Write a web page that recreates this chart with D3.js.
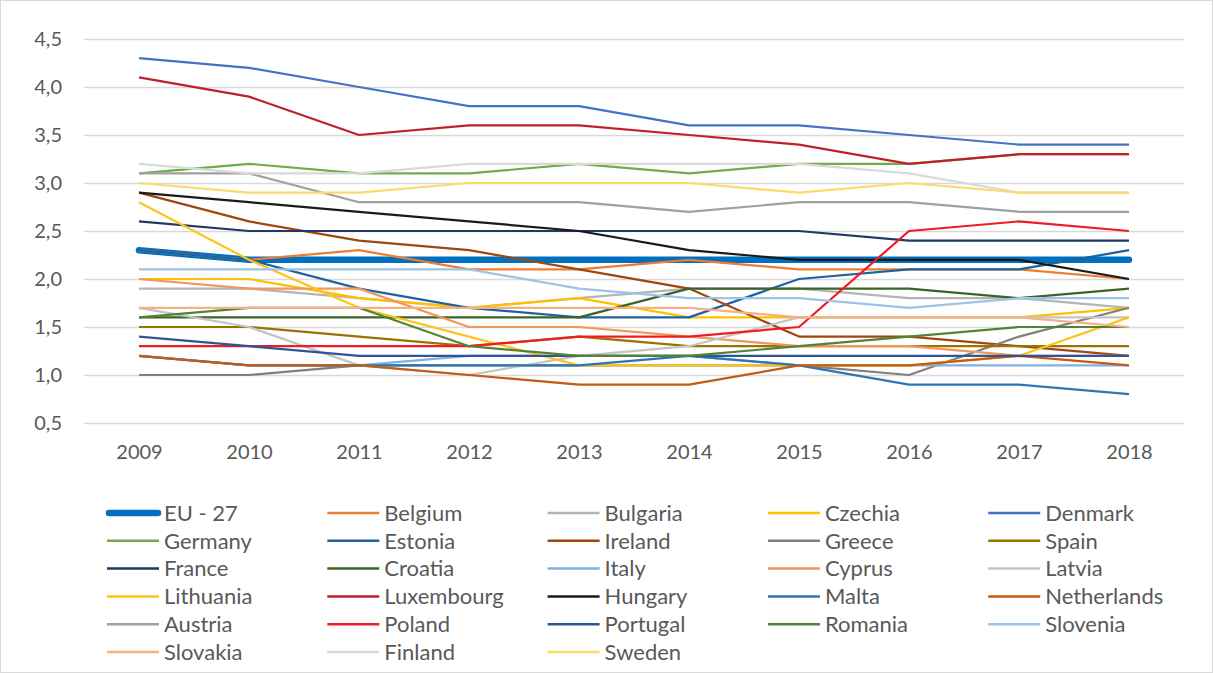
<!DOCTYPE html>
<meta charset="utf-8">
<head>
    <title>Lines</title>
    <script src="https://cdn.jsdelivr.net/npm/d3@7"></script>
</head>

<style>
    body { margin: 0; background: #fff; }
    text { font-family: Lato, "Open Sans", sans-serif; fill: #595959; }
    .grid line { stroke: #d9d9d9; stroke-width: 1.3; }
    .grid path { display: none; }
    .series { fill: none; stroke-linejoin: round; }
</style>

<svg></svg>

<script>
    // data
    var years = ["2009", "2010", "2011", "2012", "2013", "2014", "2015", "2016", "2017", "2018"];
    var yTicks = [0.5, 1.0, 1.5, 2.0, 2.5, 3.0, 3.5, 4.0, 4.5];

    var eu27        = [2.3, 2.2, 2.2, 2.2, 2.2, 2.2, 2.2, 2.2, 2.2, 2.2];
    var belgium     = [2.3, 2.2, 2.3, 2.1, 2.1, 2.2, 2.1, 2.1, 2.1, 2.0];
    var bulgaria    = [1.9, 1.9, 1.8, 1.7, 1.8, 1.9, 1.9, 1.8, 1.8, 1.7];
    var czechia     = [2.0, 2.0, 1.8, 1.7, 1.8, 1.6, 1.6, 1.6, 1.6, 1.7];
    var denmark     = [4.3, 4.2, 4.0, 3.8, 3.8, 3.6, 3.6, 3.5, 3.4, 3.4];
    var germany     = [3.1, 3.2, 3.1, 3.1, 3.2, 3.1, 3.2, 3.2, 3.3, 3.3];
    var estonia     = [2.3, 2.2, 1.9, 1.7, 1.6, 1.6, 2.0, 2.1, 2.1, 2.3];
    var ireland     = [2.9, 2.6, 2.4, 2.3, 2.1, 1.9, 1.4, 1.4, 1.3, 1.2];
    var greece      = [1.0, 1.0, 1.1, 1.1, 1.1, 1.1, 1.1, 1.0, 1.4, 1.7];
    var spain       = [1.5, 1.5, 1.4, 1.3, 1.4, 1.3, 1.3, 1.3, 1.3, 1.3];
    var france      = [2.6, 2.5, 2.5, 2.5, 2.5, 2.5, 2.5, 2.4, 2.4, 2.4];
    var croatia     = [1.6, 1.6, 1.6, 1.6, 1.6, 1.9, 1.9, 1.9, 1.8, 1.9];
    var italy       = [1.2, 1.1, 1.1, 1.2, 1.2, 1.2, 1.1, 1.1, 1.1, 1.1];
    var cyprus      = [2.0, 1.9, 1.9, 1.5, 1.5, 1.4, 1.3, 1.3, 1.2, 1.2];
    var latvia      = [1.7, 1.5, 1.1, 1.0, 1.2, 1.3, 1.6, 1.6, 1.6, 1.6];
    var lithuania   = [2.8, 2.2, 1.7, 1.4, 1.1, 1.1, 1.1, 1.1, 1.2, 1.6];
    var luxembourg  = [4.1, 3.9, 3.5, 3.6, 3.6, 3.5, 3.4, 3.2, 3.3, 3.3];
    var hungary     = [2.9, 2.8, 2.7, 2.6, 2.5, 2.3, 2.2, 2.2, 2.2, 2.0];
    var malta       = [1.2, 1.1, 1.1, 1.1, 1.1, 1.2, 1.1, 0.9, 0.9, 0.8];
    var netherlands = [1.2, 1.1, 1.1, 1.0, 0.9, 0.9, 1.1, 1.1, 1.2, 1.1];
    var austria     = [3.1, 3.1, 2.8, 2.8, 2.8, 2.7, 2.8, 2.8, 2.7, 2.7];
    var poland      = [1.3, 1.3, 1.3, 1.3, 1.4, 1.4, 1.5, 2.5, 2.6, 2.5];
    var portugal    = [1.4, 1.3, 1.2, 1.2, 1.2, 1.2, 1.2, 1.2, 1.2, 1.2];
    var romania     = [1.6, 1.7, 1.7, 1.3, 1.2, 1.2, 1.3, 1.4, 1.5, 1.5];
    var slovenia    = [2.1, 2.1, 2.1, 2.1, 1.9, 1.8, 1.8, 1.7, 1.8, 1.8];
    var slovakia    = [1.7, 1.7, 1.7, 1.7, 1.7, 1.7, 1.6, 1.6, 1.6, 1.5];
    var finland     = [3.2, 3.1, 3.1, 3.2, 3.2, 3.2, 3.2, 3.1, 2.9, 2.9];
    var sweden      = [3.0, 2.9, 2.9, 3.0, 3.0, 3.0, 2.9, 3.0, 2.9, 2.9];

    var names = ["EU - 27", "Belgium", "Bulgaria", "Czechia", "Denmark",
        "Germany", "Estonia", "Ireland", "Greece", "Spain",
        "France", "Croatia", "Italy", "Cyprus", "Latvia",
        "Lithuania", "Luxembourg", "Hungary", "Malta", "Netherlands",
        "Austria", "Poland", "Portugal", "Romania", "Slovenia",
        "Slovakia", "Finland", "Sweden"];
    var values = [eu27, belgium, bulgaria, czechia, denmark,
        germany, estonia, ireland, greece, spain,
        france, croatia, italy, cyprus, latvia,
        lithuania, luxembourg, hungary, malta, netherlands,
        austria, poland, portugal, romania, slovenia,
        slovakia, finland, sweden];
    var colors = ["#0070c0", "#ed7d31", "#b4b4b4", "#ffc000", "#4472c4",
        "#70ad47", "#1f62a0", "#9e480e", "#7f7f7f", "#997300",
        "#203864", "#3b6326", "#7fb1e3", "#f0975a", "#c4c4c4",
        "#ffc31a", "#c0202a", "#1a1a1a", "#2e75b6", "#c55a11",
        "#a0a0a0", "#f01c24", "#2f5597", "#548235", "#9dc3e6",
        "#f4b183", "#d9d9d9", "#ffd966"];

    var vWidth = 1213, vHeight = 673;
    var plotLeft = 84, plotRight = 1184, plotTop = 39, plotBottom = 423;

    var svg = d3.select('svg')
        .attr('width', vWidth)
        .attr('height', vHeight);

    svg.append('rect')
        .attr('x', 0.5).attr('y', 0.5)
        .attr('width', vWidth - 1).attr('height', vHeight - 1)
        .attr('fill', '#fff').attr('stroke', '#d9d9d9');

    var x = d3.scalePoint().domain(years).range([plotLeft, plotRight]).padding(0.5);
    var y = d3.scaleLinear().domain([0.5, 4.5]).range([plotBottom, plotTop]);

    var fmt = d3.formatLocale({decimal: ",", thousands: ".", grouping: [3], currency: ["", "€"]}).format(".1f");

    // grid + y labels
    svg.append('g')
        .attr('class', 'grid')
        .attr('transform', 'translate(' + plotLeft + ',0)')
        .call(d3.axisLeft(y).tickValues(yTicks).tickSize(-(plotRight - plotLeft)).tickFormat(fmt).tickPadding(22))
        .selectAll('text')
        .style('font-size', '20px');

    // x labels
    svg.append('g')
        .attr('class', 'grid')
        .attr('transform', 'translate(0,' + plotBottom + ')')
        .call(d3.axisBottom(x).tickSize(0).tickPadding(22))
        .selectAll('text')
        .style('font-size', '20px');

    var line = d3.line()
        .x(function (d, i) { return x(years[i]); })
        .y(function (d) { return y(d); });

    svg.append('g')
        .selectAll('path').data(values).enter()
        .append('path')
        .attr('class', 'series')
        .attr('d', line)
        .attr('stroke', function (d, i) { return colors[i]; })
        .attr('stroke-width', function (d, i) { return i === 0 ? 6.5 : 2.2; })
        .attr('stroke-linecap', function (d, i) { return i === 0 ? 'round' : 'butt'; });

    // legend
    var legend = svg.append('g')
        .selectAll('g').data(names).enter()
        .append('g')
        .attr('transform', function (d, i) {
            return 'translate(' + (107 + (i % 5) * 220.3) + ',' + (513 + Math.floor(i / 5) * 27.8) + ')';
        });

    legend.append('line')
        .attr('x1', function (d, i) { return i === 0 ? 2 : 0; })
        .attr('x2', function (d, i) { return i === 0 ? 51 : 52; })
        .attr('stroke', function (d, i) { return colors[i]; })
        .attr('stroke-width', function (d, i) { return i === 0 ? 6.5 : 2.5; })
        .attr('stroke-linecap', function (d, i) { return i === 0 ? 'round' : 'butt'; });

    legend.append('text')
        .attr('x', 57)
        .attr('dy', '0.35em')
        .style('font-size', '22px')
        .text(function (d) { return d; });
</script>
